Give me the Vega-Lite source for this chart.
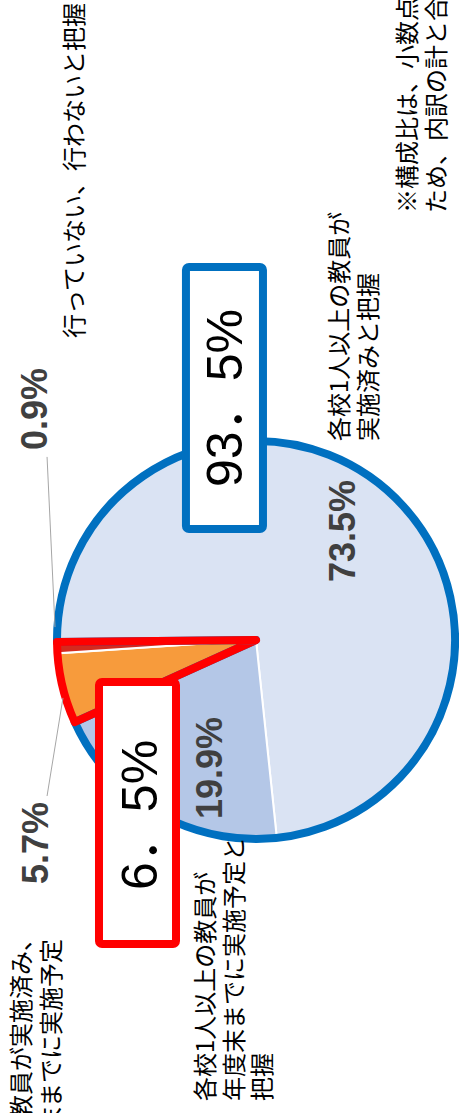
{
  "$schema": "https://vega.github.io/schema/vega-lite/v6.json",
  "width": 459,
  "height": 1113,
  "autosize": {"type": "none"},
  "padding": 0,
  "background": "#ffffff",
  "config": {"view": {"stroke": null}},
  "datasets": {
    "slices": [
      {"category": "一部の教員が実施済み、年度末までに実施予定", "share": 0.057, "ord": 1},
      {"category": "行っていない、行わないと把握", "share": 0.009, "ord": 2},
      {"category": "各校1人以上の教員が実施済みと把握", "share": 0.735, "ord": 3},
      {"category": "各校1人以上の教員が年度末までに実施予定と把握", "share": 0.199, "ord": 4}
    ],
    "groups": [
      {"group": "一部実施・未実施", "share": 0.066, "ord": 1},
      {"group": "実施済み・実施予定", "share": 0.934, "ord": 2}
    ],
    "boxes": [
      {"group": "実施済み・実施予定", "label": "93．5%", "x": -35.2, "x2": 3.5, "y": -187.4, "y2": -55.8, "tx": -14.8, "ty": -121.6},
      {"group": "一部実施・未実施", "label": "6．5%", "x": -78.9, "x2": -40.2, "y": 21.1, "y2": 152.8, "tx": -57.5, "ty": 87.9}
    ],
    "labels": [
      {"kind": "pct", "text": "73.5%", "x": 44.2, "y": -54.8},
      {"kind": "pct", "text": "19.9%", "x": -22.6, "y": 64.3},
      {"kind": "pct", "text": "0.9%", "x": -110.6, "y": -116.1},
      {"kind": "pct", "text": "5.7%", "x": -110.3, "y": 102.0},
      {"kind": "start", "text": "各校1人以上の教員が", "x": 42.7, "y": -100.0},
      {"kind": "start", "text": "実施済みと把握", "x": 57.3, "y": -100.0},
      {"kind": "start", "text": "各校1人以上の教員が", "x": -24.6, "y": 231.7},
      {"kind": "start", "text": "年度末までに実施予定と", "x": -10.1, "y": 231.7},
      {"kind": "start", "text": "把握", "x": 4.0, "y": 231.7},
      {"kind": "start", "text": "行っていない、行わないと把握", "x": -90.5, "y": -151.8},
      {"kind": "start", "text": "※構成比は、小数点以下第2位を四捨五入している", "x": 76.9, "y": -214.6},
      {"kind": "start", "text": "ため、内訳の計と合計が一致しない場合がある。", "x": 91.5, "y": -214.6},
      {"kind": "end", "text": "一部の教員が実施済み、", "x": -117.1, "y": 144.2},
      {"kind": "end", "text": "年度末までに実施予定", "x": -102.0, "y": 150.3}
    ],
    "leaders": [
      {"x": -105.0, "y": -92.0, "x2": -101.0, "y2": -6.5},
      {"x": -105.0, "y": 78.4, "x2": -97.0, "y2": 29.1}
    ]
  },
  "layer": [
    {
      "data": {"name": "slices"},
      "mark": {"type": "arc", "outerRadius": 199, "stroke": "#ffffff", "strokeWidth": 2},
      "encoding": {
        "theta": {"field": "share", "type": "quantitative", "stack": true, "scale": {"domain": [0, 1], "range": [4.28721, 10.5704]}},
        "order": {"field": "ord", "type": "quantitative"},
        "fill": {"field": "category", "type": "nominal", "legend": null,
          "scale": {"domain": ["一部の教員が実施済み、年度末までに実施予定", "行っていない、行わないと把握", "各校1人以上の教員が実施済みと把握", "各校1人以上の教員が年度末までに実施予定と把握"],
                    "range": ["#f79b3c", "#d42a1e", "#dae3f3", "#b4c7e7"]}},
        "x": {"datum": 0, "type": "quantitative", "axis": null, "scale": {"domain": [-128.643, 102.01], "nice": false, "zero": false}},
        "y": {"datum": 0, "type": "quantitative", "axis": null, "scale": {"domain": [-321.608, 237.688], "nice": false, "zero": false, "reverse": true}}
      }
    },
    {
      "data": {"name": "groups"},
      "mark": {"type": "arc", "outerRadius": 199, "fillOpacity": 0, "strokeWidth": 8, "strokeJoin": "round"},
      "encoding": {
        "theta": {"field": "share", "type": "quantitative", "stack": true, "scale": {"domain": [0, 1], "range": [4.28721, 10.5704]}},
        "order": {"field": "ord", "type": "quantitative"},
        "stroke": {"field": "group", "type": "nominal", "legend": null, "scale": {"domain": ["実施済み・実施予定", "一部実施・未実施"], "range": ["#0070c0", "#ff0000"]}},
        "strokeOpacity": {"condition": {"test": "datum.group === '実施済み・実施予定'", "value": 1}, "value": 0},
        "x": {"datum": 0, "type": "quantitative", "axis": null},
        "y": {"datum": 0, "type": "quantitative", "axis": null}
      }
    },
    {
      "data": {"name": "groups"},
      "mark": {"type": "arc", "outerRadius": 199, "fillOpacity": 0, "strokeWidth": 8, "strokeJoin": "round"},
      "encoding": {
        "theta": {"field": "share", "type": "quantitative", "stack": true, "scale": {"domain": [0, 1], "range": [4.28721, 10.5704]}},
        "order": {"field": "ord", "type": "quantitative"},
        "stroke": {"field": "group", "type": "nominal", "legend": null},
        "strokeOpacity": {"condition": {"test": "datum.group === '一部実施・未実施'", "value": 1}, "value": 0},
        "x": {"datum": 0, "type": "quantitative", "axis": null},
        "y": {"datum": 0, "type": "quantitative", "axis": null}
      }
    },
    {
      "data": {"name": "leaders"},
      "mark": {"type": "rule", "color": "#a6a6a6", "strokeWidth": 1},
      "encoding": {
        "x": {"field": "x", "type": "quantitative", "axis": null},
        "y": {"field": "y", "type": "quantitative", "axis": null},
        "x2": {"field": "x2"},
        "y2": {"field": "y2"}
      }
    },
    {
      "data": {"name": "boxes"},
      "mark": {"type": "rect", "fill": "#ffffff", "strokeWidth": 8, "cornerRadius": 3},
      "encoding": {
        "x": {"field": "x", "type": "quantitative", "axis": null},
        "x2": {"field": "x2"},
        "y": {"field": "y", "type": "quantitative", "axis": null},
        "y2": {"field": "y2"},
        "stroke": {"field": "group", "type": "nominal", "legend": null}
      }
    },
    {
      "data": {"name": "boxes"},
      "mark": {"type": "text", "angle": 270, "fontSize": 50, "font": "Liberation Sans, Noto Sans CJK JP", "align": "center", "baseline": "middle", "color": "#000000"},
      "encoding": {
        "x": {"field": "tx", "type": "quantitative", "axis": null},
        "y": {"field": "ty", "type": "quantitative", "axis": null},
        "text": {"field": "label"}
      }
    },
    {
      "data": {"name": "labels"},
      "transform": [{"filter": "datum.kind === 'pct'"}],
      "mark": {"type": "text", "angle": 270, "fontSize": 36, "fontWeight": "bold", "font": "Liberation Sans", "align": "center", "baseline": "middle", "color": "#404040"},
      "encoding": {
        "x": {"field": "x", "type": "quantitative", "axis": null},
        "y": {"field": "y", "type": "quantitative", "axis": null},
        "text": {"field": "text"}
      }
    },
    {
      "data": {"name": "labels"},
      "transform": [{"filter": "datum.kind === 'start'"}],
      "mark": {"type": "text", "angle": 270, "fontSize": 24, "font": "Noto Sans CJK JP", "align": "left", "baseline": "middle", "color": "#000000"},
      "encoding": {
        "x": {"field": "x", "type": "quantitative", "axis": null},
        "y": {"field": "y", "type": "quantitative", "axis": null},
        "text": {"field": "text"}
      }
    },
    {
      "data": {"name": "labels"},
      "transform": [{"filter": "datum.kind === 'end'"}],
      "mark": {"type": "text", "angle": 270, "fontSize": 24, "font": "Noto Sans CJK JP", "align": "right", "baseline": "middle", "color": "#000000"},
      "encoding": {
        "x": {"field": "x", "type": "quantitative", "axis": null},
        "y": {"field": "y", "type": "quantitative", "axis": null},
        "text": {"field": "text"}
      }
    }
  ]
}
